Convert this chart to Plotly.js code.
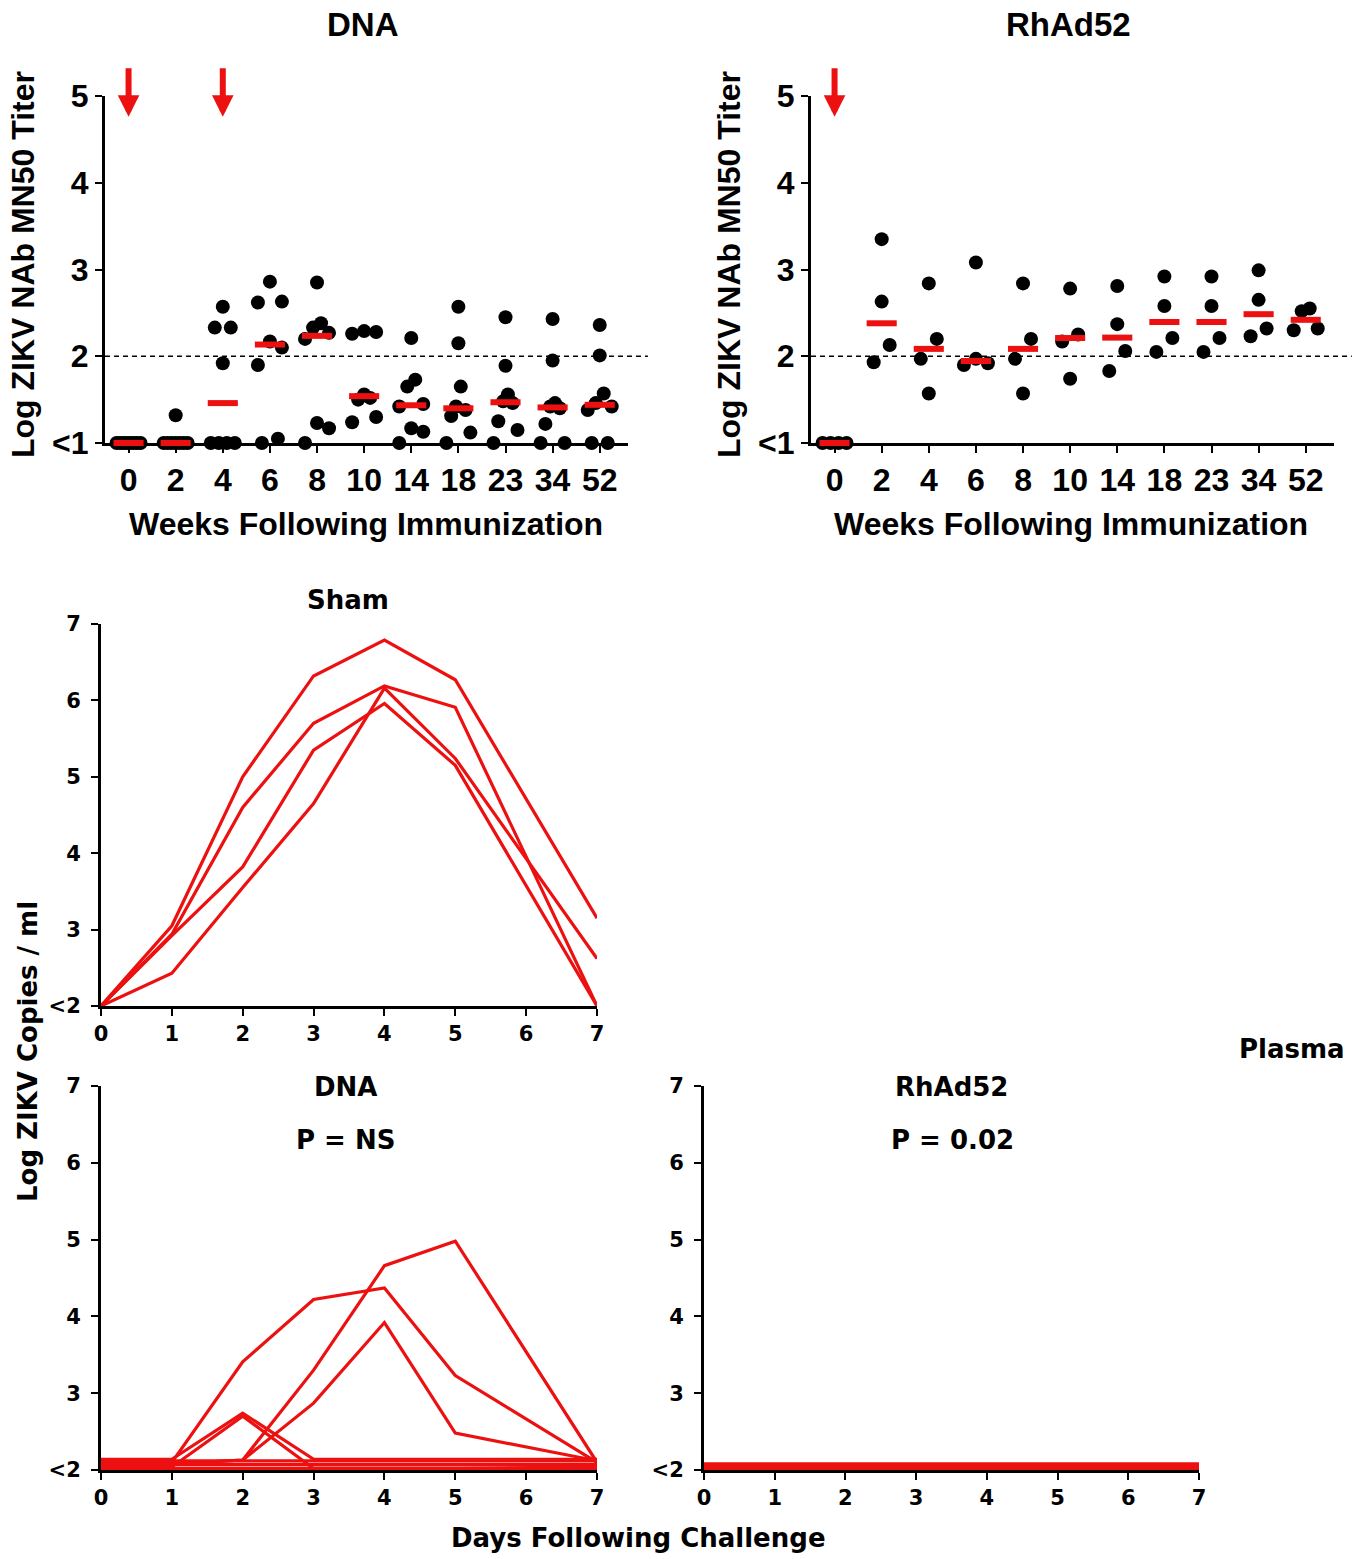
<!DOCTYPE html>
<html><head><meta charset="utf-8">
<script src="https://cdn.plot.ly/plotly-3.0.1.min.js"></script>
<style>html,body{margin:0;padding:0;background:#fff}#chart{width:1367px;height:1559px}</style>
</head><body><div id="chart"></div>
<script>
// ---------- DATA ----------
const weeks = ['0','2','4','6','8','10','14','18','23','34','52'];
const dnaTiters = [
  [1,1,1,1,1,1,1,1],
  [1.32,1,1,1,1,1,1,1],
  [2.57,2.33,2.33,1.92,1,1,1,1],
  [2.86,2.63,2.62,2.17,2.10,1.90,1.05,1.0],
  [2.85,2.38,2.33,2.27,2.20,1.23,1.17,1.0],
  [2.29,2.28,2.26,1.56,1.52,1.50,1.30,1.24],
  [2.21,1.73,1.65,1.45,1.42,1.17,1.13,1.0],
  [2.57,2.15,1.65,1.42,1.38,1.31,1.12,1.0],
  [2.45,1.89,1.56,1.48,1.46,1.25,1.15,1.0],
  [2.43,1.95,1.46,1.42,1.40,1.22,1.0,1.0],
  [2.36,2.01,1.57,1.46,1.42,1.38,1.0,1.0]
];
const rhadTiters = [
  [1,1,1,1],
  [3.35,2.63,2.13,1.93],
  [2.84,2.20,1.97,1.57],
  [3.08,1.97,1.92,1.90],
  [2.84,2.20,1.97,1.57],
  [2.78,2.25,2.17,1.74],
  [2.81,2.37,2.06,1.83],
  [2.92,2.58,2.21,2.05],
  [2.92,2.58,2.21,2.05],
  [2.99,2.65,2.32,2.23],
  [2.55,2.52,2.32,2.30]
];
const dnaImmunizationWeeks = ['0','4'];
const rhadImmunizationWeeks = ['0'];
const titerThreshold = 2;
const titerTicks = [1,2,3,4,5];
const titerTickText = ['<1','2','3','4','5'];

const days = [0,1,2,3,4,5,7];
const dayTicks = [0,1,2,3,4,5,6,7];
const vlTicks = [2,3,4,5,6,7];
const vlTickText = ['<2','3','4','5','6','7'];
const shamVL = [
  [2.0,3.05,5.00,6.32,6.79,6.27,3.15],
  [2.0,2.94,4.60,5.70,6.19,5.91,2.00],
  [2.0,2.92,3.82,5.35,5.96,5.15,2.00],
  [2.0,2.43,3.55,4.65,6.16,5.24,2.62]
];
const dnaVL = [
  [2.10,2.10,3.41,4.22,4.37,3.23,2.10],
  [2.08,2.08,2.13,3.30,4.66,4.98,2.10],
  [2.08,2.08,2.13,2.87,3.92,2.48,2.12],
  [2.14,2.14,2.74,2.14,2.14,2.14,2.14],
  [2.04,2.04,2.70,2.02,2.02,2.02,2.04],
  [2.12,2.12,2.12,2.12,2.12,2.12,2.12],
  [2.07,2.07,2.07,2.07,2.07,2.07,2.07],
  [2.02,2.02,2.02,2.02,2.02,2.02,2.02]
];
const rhadVL = [
  [2.02,2.02,2.02,2.02,2.02,2.02,2.02],
  [2.04,2.04,2.04,2.04,2.04,2.04,2.04],
  [2.06,2.06,2.06,2.06,2.06,2.06,2.06],
  [2.08,2.08,2.08,2.08,2.08,2.08,2.08]
];

// ---------- LAYOUT HELPERS ----------
const W = 1367, H = 1559;
const px = v => v / W;
const py = v => 1 - v / H;
const RED = 'rgb(236,16,16)';
const topFont = {family: 'Liberation Sans, Arial, sans-serif', size: 32, color: '#000', weight: 'bold'};
const botTick = {family: 'DejaVu Sans, sans-serif', size: 21, color: '#000', weight: 'bold'};
const botFont = {family: 'DejaVu Sans, sans-serif', size: 26, color: '#000', weight: 'bold'};

const topXRange = [-0.5, 10.6];
const topYRange = [1, 5];
const topXDom = [[105, 628], [811, 1334]];
const topYDom = [96, 443];

function median(a) {
  const s = a.slice().sort((p, q) => p - q);
  const n = s.length;
  return n % 2 ? s[(n - 1) / 2] : (s[n / 2 - 1] + s[n / 2]) / 2;
}

function swarmOffsets(vals, pxPerY, pxPerX) {
  const idx = vals.map((v, i) => i).sort((a, b) => vals[a] - vals[b]);
  const offs = new Array(vals.length).fill(0);
  const clusters = [];
  let cur = [idx[0]];
  for (let k = 1; k < idx.length; k++) {
    if ((vals[idx[k]] - vals[idx[k - 1]]) * pxPerY < 20) cur.push(idx[k]);
    else { clusters.push(cur); cur = [idx[k]]; }
  }
  clusters.push(cur);
  clusters.forEach(c => {
    const n = c.length;
    if (n < 2) return;
    const sp = Math.min(16, 24 / (n - 1));
    const slots = [];
    for (let i = 0; i < n; i++) slots.push((i - (n - 1) / 2) * sp);
    const order = [];
    let lo = 0, hi = n - 1;
    while (lo <= hi) { order.push(lo++); if (lo <= hi) order.push(hi--); }
    c.forEach((pi, k) => { offs[pi] = slots[order[k]] / pxPerX; });
  });
  return offs;
}

function titerTraces(groups, xa, ya, dom) {
  const pxPerX = (dom[1] - dom[0]) / (topXRange[1] - topXRange[0]);
  const pxPerY = (topYDom[1] - topYDom[0]) / (topYRange[1] - topYRange[0]);
  const xs = [], ys = [];
  groups.forEach((g, i) => {
    const off = swarmOffsets(g, pxPerY, pxPerX);
    g.forEach((v, j) => { xs.push(i + off[j]); ys.push(v); });
  });
  return [
    {type: 'scatter', mode: 'markers', x: xs, y: ys, xaxis: xa, yaxis: ya, cliponaxis: false,
     marker: {color: '#000', size: 14, line: {width: 0}}, hoverinfo: 'skip'},
    {type: 'scatter', mode: 'markers', x: groups.map((g, i) => i), y: groups.map(median),
     xaxis: xa, yaxis: ya, cliponaxis: false,
     marker: {symbol: 'line-ew', size: 21.5, color: RED, line: {color: RED, width: 6}}, hoverinfo: 'skip'}
  ];
}

function vlTraces(series, xa, ya) {
  return series.map(s => ({
    type: 'scatter', mode: 'lines', x: days, y: s, xaxis: xa, yaxis: ya, cliponaxis: false,
    line: {color: RED, width: 3.2}, hoverinfo: 'skip'
  }));
}

const data = [
  ...titerTraces(dnaTiters, 'x', 'y', topXDom[0]),
  ...titerTraces(rhadTiters, 'x2', 'y2', topXDom[1]),
  ...vlTraces(shamVL, 'x3', 'y3'),
  ...vlTraces(dnaVL, 'x4', 'y4'),
  ...vlTraces(rhadVL, 'x5', 'y5')
];

function topX(dom, anchor) {
  return {domain: [px(dom[0]), px(dom[1])], range: topXRange, anchor: anchor,
    tickmode: 'array', tickvals: weeks.map((w, i) => i), ticktext: weeks,
    ticks: 'outside', ticklen: 7, tickwidth: 2, tickcolor: '#000',
    showline: true, linewidth: 3, linecolor: '#000', showgrid: false, zeroline: false,
    tickfont: topFont, layer: 'below traces', fixedrange: true};
}
function topY(anchor) {
  return {domain: [py(topYDom[1]), py(topYDom[0])], range: topYRange, anchor: anchor,
    tickmode: 'array', tickvals: titerTicks, ticktext: titerTickText,
    ticks: 'outside', ticklen: 7, tickwidth: 2, tickcolor: '#000',
    showline: true, linewidth: 3, linecolor: '#000', showgrid: false, zeroline: false,
    tickfont: topFont, layer: 'below traces', fixedrange: true};
}
function botX(dom, anchor) {
  return {domain: [px(dom[0]), px(dom[1])], range: [0, 7], anchor: anchor,
    tickmode: 'array', tickvals: dayTicks, ticktext: dayTicks.map(String),
    ticks: 'outside', ticklen: 7, tickwidth: 2, tickcolor: '#000',
    showline: true, linewidth: 3, linecolor: '#000', showgrid: false, zeroline: false,
    tickfont: botTick, layer: 'below traces', fixedrange: true};
}
function botY(dom, anchor) {
  return {domain: [py(dom[1]), py(dom[0])], range: [2, 7], anchor: anchor,
    tickmode: 'array', tickvals: vlTicks, ticktext: vlTickText,
    ticks: 'outside', ticklen: 7, tickwidth: 2, tickcolor: '#000',
    showline: true, linewidth: 3, linecolor: '#000', showgrid: false, zeroline: false,
    tickfont: botTick, layer: 'below traces', ticklabelstandoff: 6, fixedrange: true};
}

function ann(text, x, y, font, extra) {
  return Object.assign({text: text, x: px(x), y: py(y), xref: 'paper', yref: 'paper',
    showarrow: false, xanchor: 'center', yanchor: 'middle', font: font}, extra || {});
}
function arrows(list, xa, ya) {
  return list.map(w => ({
    x: weeks.indexOf(w), y: 4.76, xref: xa, yref: ya, text: '', showarrow: true,
    arrowhead: 2, arrowsize: 0.72, arrowwidth: 6, arrowcolor: RED, ax: 0, ay: -50
  }));
}

const titleTop = Object.assign({}, topFont, {size: 33});
const layout = {
  width: W, height: H, margin: {l: 0, r: 0, t: 0, b: 0}, showlegend: false,
  paper_bgcolor: '#fff', plot_bgcolor: 'rgba(0,0,0,0)',
  xaxis: topX(topXDom[0], 'y'), yaxis: topY('x'),
  xaxis2: topX(topXDom[1], 'y2'), yaxis2: topY('x2'),
  xaxis3: botX([101, 597], 'y3'), yaxis3: botY([624, 1006], 'x3'),
  xaxis4: botX([101, 597], 'y4'), yaxis4: botY([1086, 1470], 'x4'),
  xaxis5: botX([704, 1199], 'y5'), yaxis5: botY([1086, 1470], 'x5'),
  shapes: [
    {type: 'line', xref: 'x domain', yref: 'y', x0: 0, x1: 1.038, y0: titerThreshold, y1: titerThreshold,
     line: {color: '#000', width: 1.5, dash: '5px,4px'}},
    {type: 'line', xref: 'x2 domain', yref: 'y2', x0: 0, x1: 1.034, y0: titerThreshold, y1: titerThreshold,
     line: {color: '#000', width: 1.5, dash: '5px,4px'}}
  ],
  annotations: [
    ann('DNA', 363, 24, titleTop),
    ann('RhAd52', 1068, 24, titleTop),
    ann('Log ZIKV NAb MN50 Titer', 23, 265, topFont, {textangle: -90}),
    ann('Log ZIKV NAb MN50 Titer', 729, 265, topFont, {textangle: -90}),
    ann('Weeks Following Immunization', 366, 524, topFont),
    ann('Weeks Following Immunization', 1071, 524, topFont),
    ann('Sham', 348, 600, botFont),
    ann('DNA', 345, 1087, botFont),
    ann('P = NS', 345, 1140, botFont),
    ann('RhAd52', 951, 1087, botFont),
    ann('P = 0.02', 952, 1140, botFont),
    ann('Plasma', 1292, 1049, botFont),
    ann('Log ZIKV Copies / ml', 28, 1052, botFont, {textangle: -90}),
    ann('Days Following Challenge', 638, 1538, botFont),
    ...arrows(dnaImmunizationWeeks, 'x', 'y'),
    ...arrows(rhadImmunizationWeeks, 'x2', 'y2')
  ]
};

Plotly.newPlot('chart', data, layout, {staticPlot: true, displayModeBar: false});
</script>
</body></html>
